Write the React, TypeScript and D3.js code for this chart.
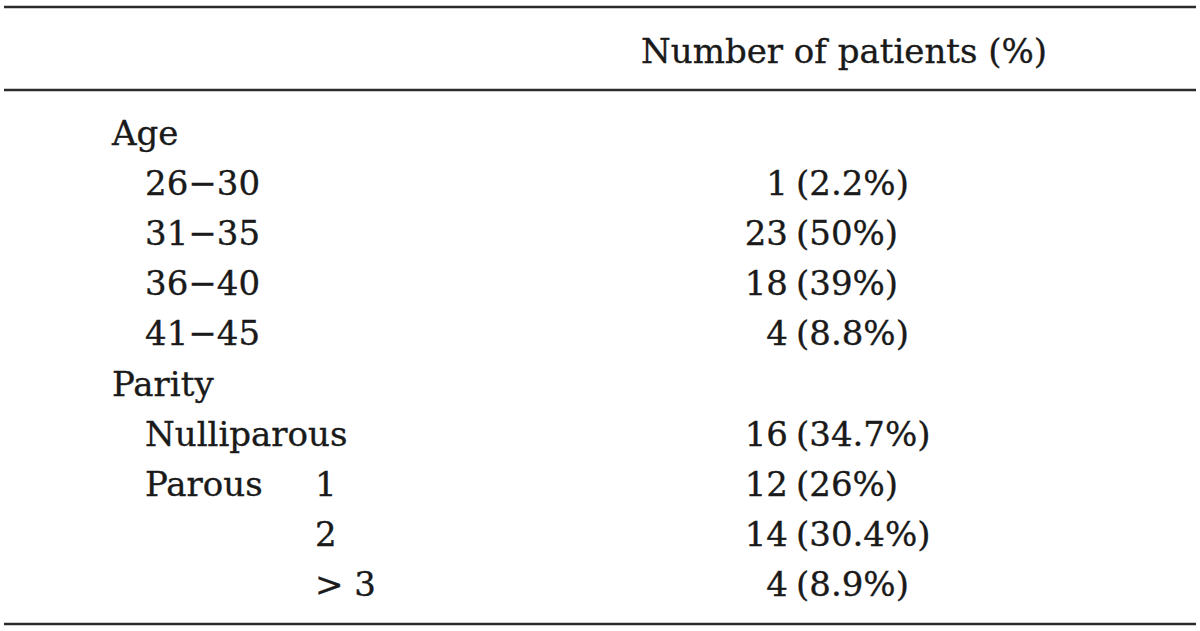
import React from "react";
import * as d3 from "d3";

const headerLabel = "Number of patients (%)";
const groupLabels = ["Age", "Parity"];
const ageLabels = ["26−30", "31−35", "36−40", "41−45"];
const ageCounts = [1, 23, 18, 4];
const agePercents = ["2.2%", "50%", "39%", "8.8%"];
const parityLabels = ["Nulliparous", "Parous", "", ""];
const paritySubLabels = ["", "1", "2", "> 3"];
const parityCounts = [16, 12, 14, 4];
const parityPercents = ["34.7%", "26%", "30.4%", "8.9%"];

type Row = { kind: "group" | "item"; label: string; sub?: string; count?: number; pct?: string };

function buildRows(): Row[] {
  const rows: Row[] = [];
  rows.push({ kind: "group", label: groupLabels[0] });
  ageLabels.forEach((l, i) => rows.push({ kind: "item", label: l, count: ageCounts[i], pct: agePercents[i] }));
  rows.push({ kind: "group", label: groupLabels[1] });
  parityLabels.forEach((l, i) =>
    rows.push({ kind: "item", label: l, sub: paritySubLabels[i], count: parityCounts[i], pct: parityPercents[i] })
  );
  return rows;
}

export default function App() {
  const W = 1200;
  const H = 631;
  const rows = buildRows();
  const y = d3.scaleLinear().domain([0, rows.length - 1]).range([145, 596]);
  const font = "'DejaVu Serif', serif";
  const fs = 34;
  const color = "#1a1a1a";
  const lineColor = "#2b2b2b";
  const x = {
    group: 112,
    item: 145,
    sub: 315,
    countEnd: 788,
    pctStart: 796,
    header: 641,
  };
  return (
    <svg width={W} height={H} style={{ position: "absolute", left: 0, top: 0, background: "#fff" }}
      fontFamily={font} fontSize={fs} fill={color} stroke={color} strokeWidth={0.35}>
      <rect width={W} height={H} fill="#fff" stroke="none" />
      <line x1={4} x2={1196} y1={7} y2={7} stroke={lineColor} strokeWidth={2.5} />
      <line x1={4} x2={1196} y1={90} y2={90} stroke={lineColor} strokeWidth={2.5} />
      <line x1={4} x2={1196} y1={624} y2={624} stroke={lineColor} strokeWidth={2.5} />
      <text x={x.header} y={63}>{headerLabel}</text>
      {rows.map((r, i) => (
        <g key={i}>
          <text x={r.kind === "group" ? x.group : x.item} y={y(i)}>{r.label}</text>
          {r.sub ? <text x={x.sub} y={y(i)}>{r.sub}</text> : null}
          {r.count !== undefined ? (
            <text x={x.countEnd} y={y(i)} textAnchor="end">{r.count}</text>
          ) : null}
          {r.pct ? <text x={x.pctStart} y={y(i)}>{`(${r.pct})`}</text> : null}
        </g>
      ))}
    </svg>
  );
}
